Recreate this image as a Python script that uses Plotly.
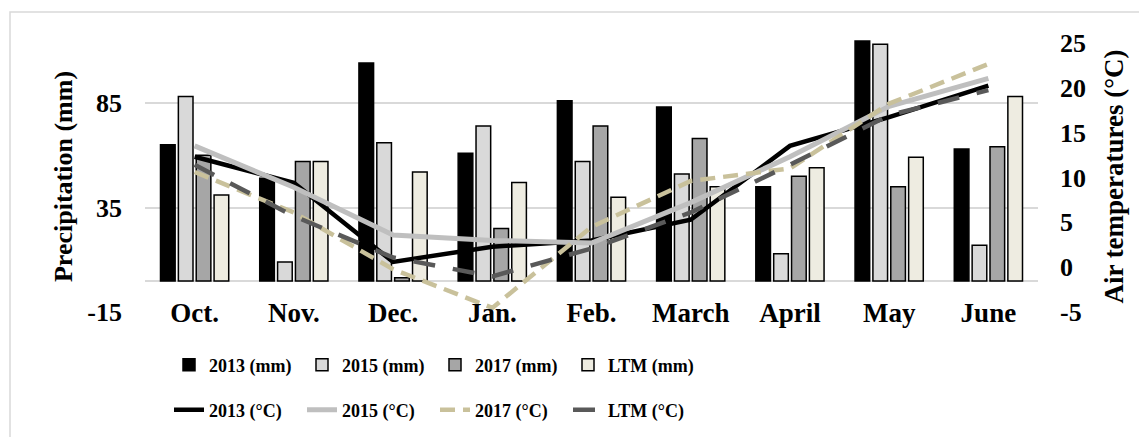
import plotly.graph_objects as go

months = ["Oct.", "Nov.", "Dec.", "Jan.", "Feb.", "March", "April", "May", "June"]

precip_2013 = [65, 49, 104, 61, 86, 83, 45, 114.5, 63]
precip_2015 = [88, 9, 66, 74, 57, 51, 13, 113, 17]
precip_2017 = [60, 57, 1.5, 25, 74, 68, 50, 45, 64]
precip_ltm = [41, 57, 52, 47, 40, 45, 54, 59, 88]

temp_2013 = [12.3, 9.4, 0.6, 2.3, 3.0, 5.3, 13.5, 16.7, 20.2]
temp_2015 = [13.5, 8.9, 3.6, 3.0, 2.7, 7.2, 12.3, 17.9, 21.0]
temp_2017 = [10.6, 6.1, -0.2, -4.5, 4.5, 9.6, 11.0, 18.2, 22.6]
temp_ltm = [11.4, 5.7, 1.1, -1.0, 2.1, 6.1, 11.4, 16.9, 19.7]

precip_ticks = [-15, 35, 85]
precip_labels = ["-15", "35", "85"]
temp_ticks = [-5, 0, 5, 10, 15, 20, 25]
temp_labels = ["-5", "0", "5", "10", "15", "20", "25"]

FONT = "Liberation Serif"

fig = go.Figure()

bar_specs = [
    ("2013 (mm)", precip_2013, "#000000"),
    ("2015 (mm)", precip_2015, "#d9d9d9"),
    ("2017 (mm)", precip_2017, "#a6a6a6"),
    ("LTM (mm)", precip_ltm, "#eeece1"),
]
for name, vals, col in bar_specs:
    fig.add_trace(go.Bar(
        x=months, y=vals, name=name, legend="legend",
        marker=dict(color=col, line=dict(color="#000000", width=1.5)),
        yaxis="y",
    ))

line_specs = [
    ("2013 (°C)", temp_2013, "#000000", "solid", 4.5),
    ("2015 (°C)", temp_2015, "#bfbfbf", "solid", 5),
    ("2017 (°C)", temp_2017, "#c9c19b", "15px,8px", 4.5),
    ("LTM (°C)", temp_ltm, "#595959", "22px,18px", 4.5),
]
for name, vals, col, dash, w in line_specs:
    fig.add_trace(go.Scatter(
        x=months, y=vals, name=name, legend="legend2", mode="lines",
        line=dict(color=col, width=w, dash=dash),
        yaxis="y2",
    ))

# page body has an 8px margin; positions below are in reference pixels
OFF = 8
W, H = 1147 - OFF, 437 - OFF
L, R, T, B = 145 - OFF, 109, 40 - OFF, 124
pw, ph = W - L - R, H - T - B

def px_x(p):
    return (p - OFF - L) / pw

def px_y(p):
    return (H - B - (p - OFF)) / ph

fig.update_layout(
    width=W, height=H,
    margin=dict(l=L, r=R, t=T, b=B, autoexpand=False),
    paper_bgcolor="white", plot_bgcolor="white",
    font=dict(family=FONT, color="#000000", weight="bold"),
    barmode="group", bargap=0.28, bargroupgap=0.18,
    xaxis=dict(
        type="category", showgrid=False, zeroline=False, showline=False,
        ticks="", tickfont=dict(size=27, family=FONT, weight="bold"),
        ticklabelstandoff=-19,
    ),
    yaxis=dict(
        range=[-15.3, 115], tickvals=precip_ticks, ticktext=precip_labels, ticks="",
        showgrid=True, gridcolor="#d9d9d9", gridwidth=1.5,
        zeroline=True, zerolinecolor="#d9d9d9", zerolinewidth=1.5,
        showline=False,
        tickfont=dict(size=26, family=FONT, weight="bold"),
        ticklabelstandoff=22,
        title=dict(text="Precipitation (mm)", standoff=7,
                   font=dict(size=26, family=FONT, weight="bold")),
    ),
    yaxis2=dict(
        range=[-5.07, 25.27], tickvals=temp_ticks, ticktext=temp_labels,
        overlaying="y", side="right",
        showgrid=False, zeroline=False, showline=False, ticks="",
        tickfont=dict(size=26, family=FONT, weight="bold"),
        ticklabelstandoff=21,
        title=dict(text="Air temperatures (°C)", standoff=19,
                   font=dict(size=27, family=FONT, weight="bold")),
    ),
    legend=dict(
        orientation="h", x=px_x(169), xanchor="left", y=px_y(365), yanchor="middle",
        entrywidth=88, entrywidthmode="pixels",
        font=dict(size=18, family=FONT, weight="bold"),
        bgcolor="rgba(0,0,0,0)", traceorder="normal",
    ),
    legend2=dict(
        orientation="h", x=px_x(169), xanchor="left", y=px_y(410), yanchor="middle",
        entrywidth=88, entrywidthmode="pixels",
        font=dict(size=18, family=FONT, weight="bold"),
        bgcolor="rgba(0,0,0,0)", traceorder="normal",
    ),
    shapes=[dict(
        type="rect", xref="paper", yref="paper",
        x0=px_x(10), x1=px_x(1200), y0=px_y(480), y1=px_y(12),
        line=dict(color="#d9d9d9", width=1.5), fillcolor="rgba(0,0,0,0)", layer="below",
    )],
)

fig.write_html("out.html")
